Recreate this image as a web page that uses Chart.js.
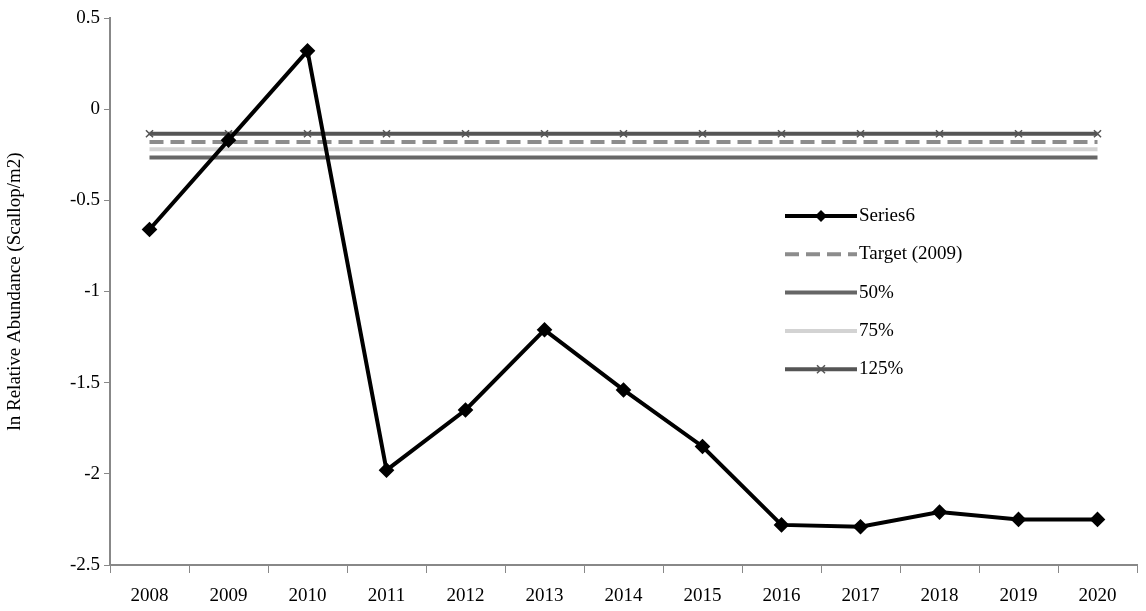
<!DOCTYPE html>
<html><head><meta charset="utf-8">
<script src="https://cdn.jsdelivr.net/npm/chart.js@4"></script>
<style>body{margin:0;background:#fff}#wrap{width:1146px;height:611px}</style>
</head><body><div id="wrap"><canvas id="c"></canvas></div>
<script>
var years = ["2008","2009","2010","2011","2012","2013","2014","2015","2016","2017","2018","2019","2020"];
var series6 = [-0.66,-0.17,0.32,-1.98,-1.65,-1.21,-1.54,-1.85,-2.28,-2.29,-2.21,-2.25,-2.25];
var target = -0.18, pct50 = -0.265, pct75 = -0.22, pct125 = -0.135;
function flat(v){ return years.map(function(){ return v; }); }

var legendPlugin = {
  id: "boxLegend",
  afterDraw: function(chart) {
    var ctx = chart.ctx, x = 785, y = 216;
    ctx.save();
    ctx.font = "19px 'Liberation Serif'";
    ctx.textBaseline = "middle";
    chart.data.datasets.forEach(function(ds, i) {
      var yy = y + i * 38.3;
      ctx.strokeStyle = ds.borderColor;
      ctx.lineWidth = ds.borderWidth;
      ctx.setLineDash(ds.borderDash || []);
      ctx.beginPath(); ctx.moveTo(x, yy); ctx.lineTo(x + 72, yy); ctx.stroke();
      ctx.setLineDash([]);
      if (ds.legendMarker === "diamond") {
        ctx.fillStyle = "#000";
        ctx.beginPath(); ctx.moveTo(x+36, yy-6); ctx.lineTo(x+42, yy); ctx.lineTo(x+36, yy+6); ctx.lineTo(x+30, yy); ctx.closePath(); ctx.fill();
      } else if (ds.legendMarker === "cross") {
        ctx.lineWidth = 1.5;
        ctx.beginPath(); ctx.moveTo(x+32, yy-4); ctx.lineTo(x+40, yy+4); ctx.moveTo(x+40, yy-4); ctx.lineTo(x+32, yy+4); ctx.stroke();
      }
      ctx.fillStyle = "#000";
      ctx.fillText(ds.label, x + 74, yy);
    });
    ctx.restore();
  }
};

new Chart(document.getElementById("c"), {
  type: "line",
  data: {
    labels: years,
    datasets: [
      { label: "Series6", data: series6, borderColor: "#000", borderWidth: 4, pointStyle: "rectRot", pointRadius: 5, pointBackgroundColor: "#000", pointBorderColor: "#000", legendMarker: "diamond", order: 0 },
      { label: "Target (2009)", data: flat(target), borderColor: "#8c8c8c", borderWidth: 4, borderDash: [14, 7], pointRadius: 0, order: 2 },
      { label: "50%", data: flat(pct50), borderColor: "#666", borderWidth: 4, pointRadius: 0, order: 3 },
      { label: "75%", data: flat(pct75), borderColor: "#d3d3d3", borderWidth: 4, pointRadius: 0, order: 4 },
      { label: "125%", data: flat(pct125), borderColor: "#555", borderWidth: 4, pointStyle: "crossRot", pointRadius: 5, pointBorderColor: "#555", pointBorderWidth: 1.5, legendMarker: "cross", order: 1 }
    ]
  },
  options: {
    responsive: true, maintainAspectRatio: false, animation: false,
    layout: { padding: { top: 18, right: 0, bottom: 0, left: 0 } },
    plugins: { legend: { display: false }, tooltip: { enabled: false } },
    scales: {
      x: { offset: true, grid: { display: true, drawOnChartArea: false, drawTicks: true, tickLength: 8, tickColor: "#888", offset: true },
           border: { color: "#888", width: 2 },
           afterFit: function(s){ s.height = 46; },
           ticks: { color: "#000", padding: 12, font: { family: "Liberation Serif", size: 19 } } },
      y: { min: -2.5, max: 0.5, grid: { display: true, drawOnChartArea: false, tickLength: 6, tickColor: "#888" },
           border: { color: "#888", width: 2 },
           afterFit: function(s){ s.width = 110; },
           ticks: { stepSize: 0.5, color: "#000", padding: 4, font: { family: "Liberation Serif", size: 19 },
                    callback: function(v){ return String(Math.round(v * 10) / 10); } },
           title: { display: true, text: "ln Relative Abundance (Scallop/m2)", color: "#000", font: { family: "Liberation Serif", size: 19 } } }
    }
  },
  plugins: [legendPlugin]
});
</script></body></html>
